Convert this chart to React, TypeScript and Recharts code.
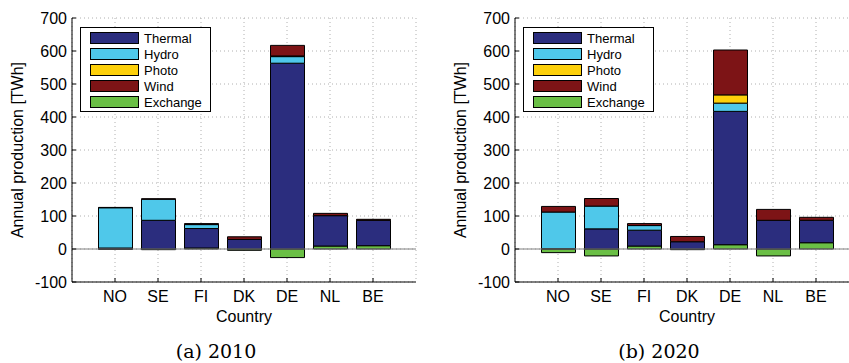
import React from 'react'
import { BarChart, Bar, XAxis, YAxis, CartesianGrid, ReferenceLine, Legend } from 'recharts'

const countries = ['NO', 'SE', 'FI', 'DK', 'DE', 'NL', 'BE']

// 2010 (TWh)
const exchange2010 = [-1, -2, 3, -4, -26, 9, 10]
const thermal2010 = [3, 87, 59, 29, 563, 92, 77]
const hydro2010 = [122, 64, 12, 0, 20, 0, 0]
const photo2010 = [0, 0, 0, 0, 2, 0, 0]
const wind2010 = [1, 1, 3, 8, 32, 7, 3]

// 2020 (TWh)
const exchange2020 = [-11, -21, 9, -2, 13, -21, 19]
const thermal2020 = [1, 61, 48, 22, 404, 87, 68]
const hydro2020 = [111, 69, 14, 0, 25, 0, 0]
const photo2020 = [0, 0, 0, 0, 25, 0, 0]
const wind2020 = [17, 23, 6, 16, 136, 33, 9]

const yTicks = [-100, 0, 100, 200, 300, 400, 500, 600, 700]
const legendOrder = ['Thermal', 'Hydro', 'Photo', 'Wind', 'Exchange']
const stackOrder = ['Exchange', 'Thermal', 'Hydro', 'Photo', 'Wind']

const colors: Record<string, string> = {
  Thermal: '#2b2d7e',
  Hydro: '#4fc8ea',
  Photo: '#fdd00b',
  Wind: '#7d1416',
  Exchange: '#6abf45',
}

const buildRows = (ex: number[], th: number[], hy: number[], ph: number[], wi: number[]) =>
  countries.map((c, i) => ({
    country: c,
    Exchange: ex[i],
    Thermal: th[i],
    Hydro: hy[i],
    Photo: ph[i],
    Wind: wi[i],
  }))

const data2010 = buildRows(exchange2010, thermal2010, hydro2010, photo2010, wind2010)
const data2020 = buildRows(exchange2020, thermal2020, hydro2020, photo2020, wind2020)

const sans = '"Liberation Sans", Arial, sans-serif'

const LegendBox = () => (
  <div
    style={{
      border: '1px solid #000',
      background: '#fff',
      width: 129,
      padding: '2px 0 1px 0',
      fontFamily: sans,
      fontSize: 13,
      color: '#000',
    }}
  >
    {legendOrder.map((name) => (
      <div key={name} style={{ display: 'flex', alignItems: 'center', height: 16 }}>
        <span
          style={{
            display: 'inline-block',
            width: 47,
            height: 10,
            background: colors[name],
            border: '1px solid #000',
            marginLeft: 9,
            marginRight: 5,
          }}
        />
        <span>{name}</span>
      </div>
    ))}
  </div>
)

function Panel({ data, caption, left }: { data: any[]; caption: string; left: number }) {
  const W = 430
  const H = 363
  return (
    <div style={{ position: 'absolute', left, top: 0, width: W, height: H }}>
      <BarChart
        width={W}
        height={H}
        data={data}
        stackOffset="sign"
        margin={{ top: 18, right: W - 416, bottom: 36, left: 0 }}
        barSize={34}
        style={{ fontFamily: sans }}
      >
        <CartesianGrid stroke="#b0b0b0" strokeDasharray="1 3" />
        <XAxis
          dataKey="country"
          padding={{ left: 21.5, right: 21.5 }}
          height={45}
          tickSize={-4}
          tickMargin={13}
          tick={{ fontSize: 16, fill: '#000', fontFamily: sans }}
          axisLine={{ stroke: '#000' }}
          tickLine={{ stroke: '#000' }}
          label={{ value: 'Country', position: 'insideBottom', offset: 5, fontSize: 16, fill: '#000', fontFamily: sans }}
        />
        <XAxis
          xAxisId="top"
          orientation="top"
          dataKey="country"
          padding={{ left: 21.5, right: 21.5 }}
          height={0}
          tickSize={-4}
          tickFormatter={() => ''}
          axisLine={{ stroke: '#000' }}
          tickLine={{ stroke: '#000' }}
        />
        <YAxis
          width={72}
          domain={[-100, 700]}
          ticks={yTicks}
          interval={0}
          tickSize={-4}
          tickMargin={9}
          tick={{ fontSize: 16, fill: '#000', fontFamily: sans }}
          axisLine={{ stroke: '#000' }}
          tickLine={{ stroke: '#000' }}
          label={{
            value: 'Annual production [TWh]',
            angle: -90,
            position: 'center',
            dx: -19,
            fontSize: 16,
            fill: '#000',
            fontFamily: sans,
          }}
        />
        <YAxis
          yAxisId="right"
          orientation="right"
          width={0}
          domain={[-100, 700]}
          ticks={yTicks}
          interval={0}
          tickSize={-4}
          tickFormatter={() => ''}
          axisLine={{ stroke: '#000' }}
          tickLine={{ stroke: '#000' }}
        />
        <ReferenceLine y={0} stroke="#808080" strokeWidth={1} />
        {stackOrder.map((name) => (
          <Bar
            key={name}
            dataKey={name}
            stackId="a"
            fill={colors[name]}
            stroke="#000"
            strokeWidth={1}
            isAnimationActive={false}
          />
        ))}
        <Legend
          layout="horizontal"
          verticalAlign="middle"
          align="center"
          content={() => <LegendBox />}
          wrapperStyle={{ left: 80, top: 27, width: 'auto', bottom: 'auto' }}
        />
      </BarChart>
      <div
        style={{
          position: 'absolute',
          left: 116,
          width: 200,
          top: 341,
          textAlign: 'center',
          fontFamily: 'DejaVu Serif, serif',
          fontSize: 19,
          lineHeight: '20px',
          color: '#000',
        }}
      >
        {caption}
      </div>
    </div>
  )
}

export default function App() {
  return (
    <div
      style={{
        position: 'absolute',
        left: 0,
        top: 0,
        width: 849,
        height: 363,
        overflow: 'hidden',
        background: '#fff',
      }}
    >
      <Panel data={data2010} caption="(a) 2010" left={0} />
      <Panel data={data2020} caption="(b) 2020" left={443} />
    </div>
  )
}
